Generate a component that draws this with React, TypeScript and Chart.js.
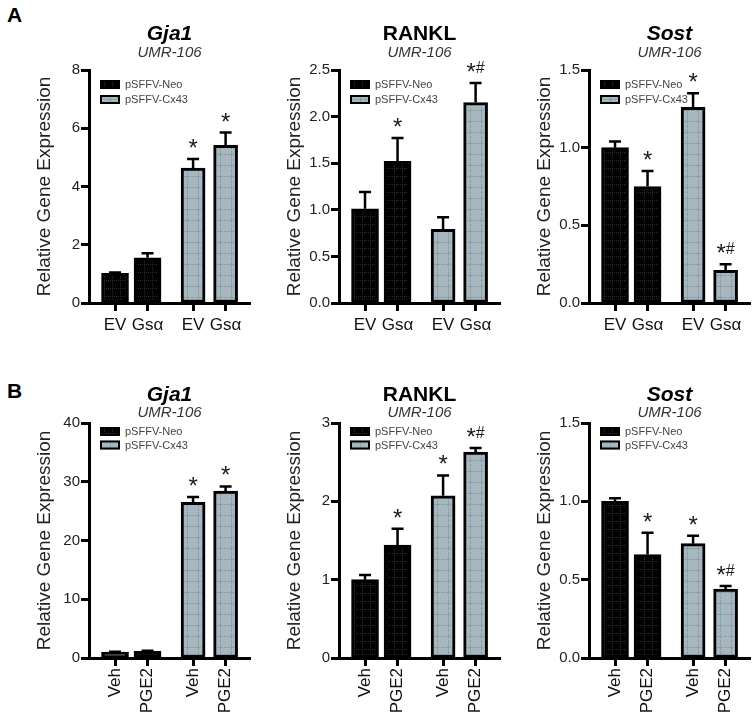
import React, { useEffect, useRef } from 'react';
import { Chart, registerables } from 'chart.js';

Chart.register(...registerables);

const FONT = '"Liberation Sans", Arial, Helvetica, sans-serif';
Chart.defaults.font.family = FONT;

// ---------------- data ----------------
const SERIES = ['pSFFV-Neo', 'pSFFV-Cx43'];
const SUBTITLE = 'UMR-106';
const Y_TITLE = 'Relative Gene Expression';
const A_LABELS = ['EV', 'Gsα', 'EV', 'Gsα'];
const B_LABELS = ['Veh', 'PGE2', 'Veh', 'PGE2'];

// Panel A
const A_GJA1_NEO = [1.02, 1.55];
const A_GJA1_NEO_ERR = [0.03, 0.16];
const A_GJA1_CX43 = [4.63, 5.41];
const A_GJA1_CX43_ERR = [0.31, 0.44];
const A_GJA1_MARKS = ['', '', '*', '*'];

const A_RANKL_NEO = [1.01, 1.52];
const A_RANKL_NEO_ERR = [0.18, 0.25];
const A_RANKL_CX43 = [0.79, 2.15];
const A_RANKL_CX43_ERR = [0.13, 0.21];
const A_RANKL_MARKS = ['', '*', '', '*#'];

const A_SOST_NEO = [1.0, 0.75];
const A_SOST_NEO_ERR = [0.04, 0.1];
const A_SOST_CX43 = [1.26, 0.21];
const A_SOST_CX43_ERR = [0.09, 0.04];
const A_SOST_MARKS = ['', '*', '*', '*#'];

// Panel B
const B_GJA1_NEO = [1.0, 1.15];
const B_GJA1_NEO_ERR = [0.05, 0.08];
const B_GJA1_CX43 = [26.5, 28.4];
const B_GJA1_CX43_ERR = [0.9, 0.8];
const B_GJA1_MARKS = ['', '', '*', '*'];

const B_RANKL_NEO = [1.0, 1.44];
const B_RANKL_NEO_ERR = [0.06, 0.21];
const B_RANKL_CX43 = [2.07, 2.63];
const B_RANKL_CX43_ERR = [0.26, 0.05];
const B_RANKL_MARKS = ['', '*', '*', '*#'];

const B_SOST_NEO = [1.0, 0.66];
const B_SOST_NEO_ERR = [0.02, 0.14];
const B_SOST_CX43 = [0.73, 0.44];
const B_SOST_CX43_ERR = [0.05, 0.02];
const B_SOST_MARKS = ['', '*', '*', '*#'];

// y axis ranges: [max, step, decimals]
const A_GJA1_Y = [8, 2, 0];
const A_RANKL_Y = [2.5, 0.5, 1];
const A_SOST_Y = [1.5, 0.5, 1];
const B_GJA1_Y = [40, 10, 0];
const B_RANKL_Y = [3, 1, 0];
const B_SOST_Y = [1.5, 0.5, 1];

// ---------------- layout ----------------
const GROUP_STRIDE = 2.4; // x-units between the first bars of the two groups
const X_MIN = 0.2;
const X_MAX = 5.15;
const barX = (g: number, i: number) => 1 + g * GROUP_STRIDE + i;

type Row = {
  top: number; height: number; xAxisH: number; subPad: { top: number; bottom: number };
  legendTop: number; legendGap: number; rotate: boolean; tickPad: number; labels: string[];
};
const ROW_A: Row = { top: 0, height: 343, xAxisH: 40, subPad: { top: 0.5, bottom: 10 }, legendTop: 10, legendGap: 15, rotate: false, tickPad: 4, labels: A_LABELS };
const ROW_B: Row = { top: 361, height: 358, xAxisH: 61, subPad: { top: 0, bottom: 2.5 }, legendTop: 4, legendGap: 13.5, rotate: true, tickPad: 2, labels: B_LABELS };

type Cfg = {
  title: string; italic: boolean; neo: number[]; neoErr: number[]; cx: number[]; cxErr: number[];
  marks: string[]; yr: number[];
};

function makePattern(bg: string, line: string, size: number, dashed: boolean) {
  const pc = document.createElement('canvas');
  pc.width = size; pc.height = size;
  const g = pc.getContext('2d')!;
  g.fillStyle = bg; g.fillRect(0, 0, size, size);
  g.fillStyle = line;
  for (let i = 0; i < size; i++) {
    const on = dashed ? i % 4 !== 3 : i % 2 === 0;
    if (on) { g.fillRect(i, 0, 1, 1); g.fillRect(0, i, 1, 1); }
  }
  return g.createPattern(pc, 'repeat')!;
}

function drawMark(c: CanvasRenderingContext2D, mark: string, x: number, errTop: number) {
  if (!mark) return;
  const parts = mark.split('').map((ch) => ({ ch, font: ch === '*' ? `24px ${FONT}` : `16px ${FONT}` }));
  let total = 0;
  const widths = parts.map((p) => { c.font = p.font; const w = c.measureText(p.ch).width; total += w; return w; });
  let cx = x - total / 2;
  c.fillStyle = '#1a1a1a';
  c.textAlign = 'left';
  c.textBaseline = 'alphabetic';
  parts.forEach((p, i) => {
    c.font = p.font;
    c.fillText(p.ch, cx, p.ch === '*' ? errTop - 3 : errTop - 10);
    cx += widths[i];
  });
}

function Panel({ cfg, row, left }: { cfg: Cfg; row: Row; left: number }) {
  const ref = useRef<HTMLCanvasElement>(null);
  useEffect(() => {
    const canvas = ref.current!;
    const neoFill = makePattern('#000000', '#2e2e2e', 8, false);
    const cxFill = makePattern('#a6b7bf', '#8b9da6', 11, true);
    const vals = [cfg.neo, cfg.cx];
    const errs = [cfg.neoErr, cfg.cxErr];
    const [yMax, yStep, yDec] = cfg.yr;

    const decor = {
      id: 'decor',
      afterDatasetsDraw(chart: any) {
        const c = chart.ctx as CanvasRenderingContext2D;
        const ys = chart.scales.y;
        let k = 0;
        chart.data.datasets.forEach((_ds: any, di: number) => {
          const meta = chart.getDatasetMeta(di);
          meta.data.forEach((el: any, j: number) => {
            const topPx = ys.getPixelForValue(vals[di][j] + errs[di][j]);
            c.save();
            c.strokeStyle = '#000';
            c.lineWidth = 2.5;
            c.beginPath();
            c.moveTo(el.x, el.y);
            c.lineTo(el.x, topPx);
            c.moveTo(el.x - 6, topPx);
            c.lineTo(el.x + 6, topPx);
            c.stroke();
            drawMark(c, cfg.marks[k], el.x, topPx);
            c.restore();
            k++;
          });
        });
      },
      afterDraw(chart: any) {
        const c = chart.ctx as CanvasRenderingContext2D;
        const a = chart.chartArea;
        chart.data.datasets.forEach((ds: any, i: number) => {
          const x = a.left + 11;
          const y = a.top + row.legendTop + i * row.legendGap;
          c.save();
          c.fillStyle = ds.backgroundColor;
          c.fillRect(x, y, 20, 9);
          c.strokeStyle = '#000';
          c.lineWidth = 2;
          c.strokeRect(x + 1, y + 1, 18, 7);
          c.fillStyle = '#444';
          c.font = `11px ${FONT}`;
          c.textAlign = 'left';
          c.textBaseline = 'middle';
          c.fillText(ds.label, x + 25, y + 5);
          c.restore();
        });
      },
    };

    const barCommon = {
      borderColor: '#000', borderWidth: 3, borderSkipped: false as const, grouped: false,
      barPercentage: 1, categoryPercentage: 1,
    };

    const chart = new Chart(canvas, {
      type: 'bar',
      data: {
        datasets: [
          { ...barCommon, label: SERIES[0], backgroundColor: neoFill as any, barThickness: 27,
            data: cfg.neo.map((v, i) => ({ x: barX(0, i), y: v })) as any },
          { ...barCommon, label: SERIES[1], backgroundColor: cxFill as any, barThickness: 24,
            data: cfg.cx.map((v, i) => ({ x: barX(1, i), y: v })) as any },
        ],
      },
      options: {
        responsive: false,
        animation: false,
        layout: { padding: { left: 0, right: 6, top: 0, bottom: 0 } },
        plugins: {
          legend: { display: false },
          tooltip: { enabled: false },
          title: {
            display: true, text: cfg.title, color: '#000', fullSize: false,
            font: { size: 21, weight: 'bold', style: cfg.italic ? 'italic' : 'normal', lineHeight: 1 },
            padding: { top: 23.5, bottom: 0 },
          },
          subtitle: {
            display: true, text: SUBTITLE, color: '#333', fullSize: false,
            font: { size: 15, style: 'italic', lineHeight: 1 },
            padding: row.subPad,
          },
        },
        scales: {
          x: {
            type: 'linear', min: X_MIN, max: X_MAX, offset: false,
            afterBuildTicks: (s: any) => {
              s.ticks = [0, 1].flatMap((g) => [0, 1].map((i) => ({ value: barX(g, i) })));
            },
            afterFit: (s: any) => { s.height = row.xAxisH; },
            ticks: {
              autoSkip: false, color: '#111', padding: row.tickPad,
              font: { size: 17 },
              minRotation: row.rotate ? 90 : 0, maxRotation: row.rotate ? 90 : 0,
              callback: (_v: any, i: number) => row.labels[i],
            },
            grid: { display: true, offset: false, drawOnChartArea: false, drawTicks: true, tickLength: 8, tickWidth: 3, tickColor: '#000' },
            border: { display: true, color: '#000', width: 3 },
          },
          y: {
            type: 'linear', min: 0, max: yMax,
            afterFit: (s: any) => { s.width = 89; },
            ticks: {
              stepSize: yStep, color: '#222', padding: 1, font: { size: 15 },
              callback: (v: any) => Number(v).toFixed(yDec),
            },
            title: {
              display: true, text: Y_TITLE, color: '#222', font: { size: 19 },
              padding: { top: 33.6, bottom: 0 },
            },
            grid: { display: true, drawOnChartArea: false, drawTicks: true, tickLength: 8, tickWidth: 3, tickColor: '#000' },
            border: { display: true, color: '#000', width: 3 },
          },
        },
      },
      plugins: [decor],
    } as any);
    return () => chart.destroy();
  }, []);

  return (
    <canvas
      ref={ref}
      width={256}
      height={row.height}
      style={{ position: 'absolute', left, top: row.top, width: 256, height: row.height, display: 'block' }}
    />
  );
}

const PANELS_A: Cfg[] = [
  { title: 'Gja1', italic: true, neo: A_GJA1_NEO, neoErr: A_GJA1_NEO_ERR, cx: A_GJA1_CX43, cxErr: A_GJA1_CX43_ERR, marks: A_GJA1_MARKS, yr: A_GJA1_Y },
  { title: 'RANKL', italic: false, neo: A_RANKL_NEO, neoErr: A_RANKL_NEO_ERR, cx: A_RANKL_CX43, cxErr: A_RANKL_CX43_ERR, marks: A_RANKL_MARKS, yr: A_RANKL_Y },
  { title: 'Sost', italic: true, neo: A_SOST_NEO, neoErr: A_SOST_NEO_ERR, cx: A_SOST_CX43, cxErr: A_SOST_CX43_ERR, marks: A_SOST_MARKS, yr: A_SOST_Y },
];
const PANELS_B: Cfg[] = [
  { title: 'Gja1', italic: true, neo: B_GJA1_NEO, neoErr: B_GJA1_NEO_ERR, cx: B_GJA1_CX43, cxErr: B_GJA1_CX43_ERR, marks: B_GJA1_MARKS, yr: B_GJA1_Y },
  { title: 'RANKL', italic: false, neo: B_RANKL_NEO, neoErr: B_RANKL_NEO_ERR, cx: B_RANKL_CX43, cxErr: B_RANKL_CX43_ERR, marks: B_RANKL_MARKS, yr: B_RANKL_Y },
  { title: 'Sost', italic: true, neo: B_SOST_NEO, neoErr: B_SOST_NEO_ERR, cx: B_SOST_CX43, cxErr: B_SOST_CX43_ERR, marks: B_SOST_MARKS, yr: B_SOST_Y },
];
const COL_LEFT = [0, 250, 500];

export default function App() {
  const letter: React.CSSProperties = {
    position: 'absolute', left: 7, fontFamily: FONT, fontWeight: 'bold', fontSize: 21, lineHeight: 1, color: '#000',
  };
  return (
    <div style={{ position: 'absolute', left: 0, top: 0, width: 755, height: 719, background: '#fff', overflow: 'hidden' }}>
      <div style={{ ...letter, top: 4 }}>A</div>
      <div style={{ ...letter, top: 380 }}>B</div>
      {PANELS_A.map((p, i) => <Panel key={'a' + i} cfg={p} row={ROW_A} left={COL_LEFT[i]} />)}
      {PANELS_B.map((p, i) => <Panel key={'b' + i} cfg={p} row={ROW_B} left={COL_LEFT[i]} />)}
    </div>
  );
}
